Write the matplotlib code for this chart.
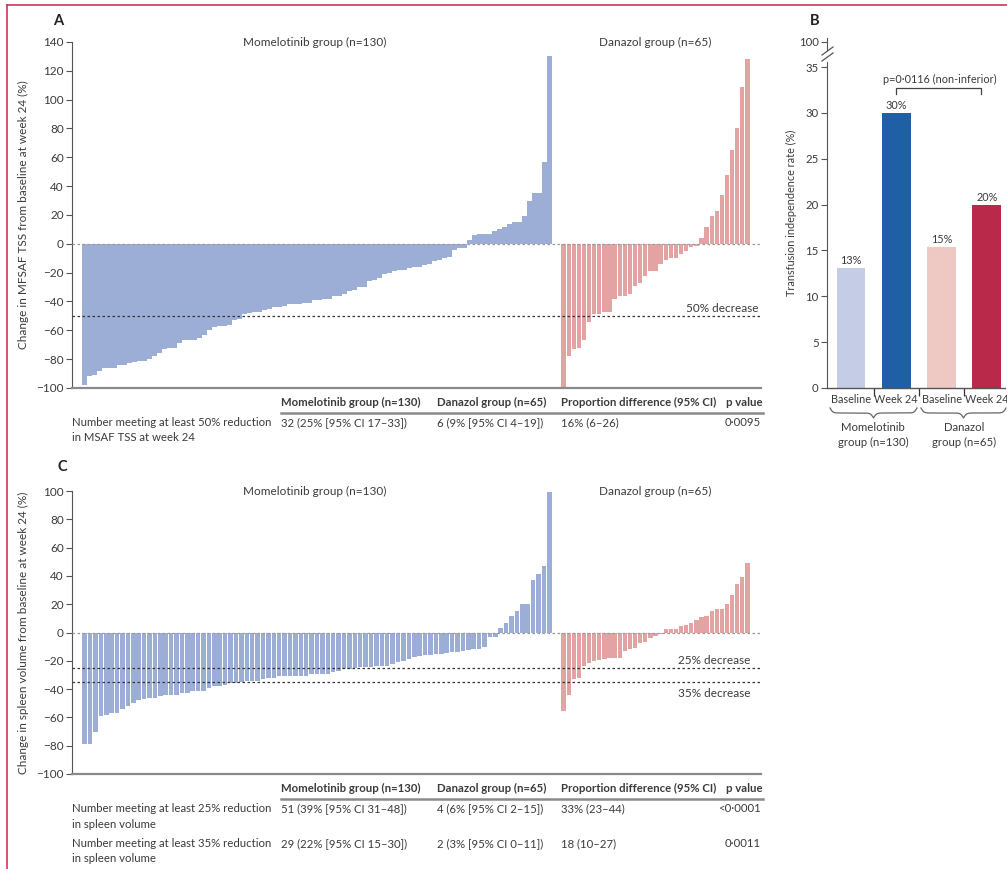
import numpy as np
import matplotlib.pyplot as plt
from matplotlib.lines import Line2D

plt.rcParams['font.family'] = ['Lato', 'DejaVu Sans']
plt.rcParams['font.size'] = 8
TXT = '#3b3b3b'
FS = 8.2

# Panel A: change in MFSAF TSS at week 24 (%), one value per patient, sorted
mom_tss = [-98, -92, -91, -88, -86, -86, -86, -84, -84, -83, -82, -81, -81, -80, -78, -76,
           -73, -72, -72, -69, -67, -67, -67, -65, -63, -60, -58, -57, -57, -56, -53, -52,
           -49, -48, -47, -47, -46, -45, -44, -44, -43, -42, -42, -42, -41, -41, -39, -39,
           -38, -38, -36, -36, -35, -33, -32, -30, -30, -26, -25, -24, -21, -20, -19, -18,
           -18, -17, -16, -16, -15, -14, -12, -11, -10, -9, -4, -3, -3, 3, 6, 7, 7, 7, 9,
           10, 12, 14, 15, 15, 19, 30, 35, 35, 57, 130]
dan_tss = [-100, -78, -73, -72, -67, -54, -49, -49, -47, -47, -38, -36, -36, -35, -29, -27,
           -22, -19, -19, -14, -11, -10, -10, -7, -5, -2.5, -1.5, 4, 12, 19, 23, 34, 48, 65,
           80, 109, 128]

# Panel C: change in spleen volume at week 24 (%)
mom_spleen = [-79, -79, -70, -59, -58, -57, -57, -54, -52, -50, -48, -47, -46, -46, -45, -44,
              -44, -44, -43, -43, -41, -41, -41, -39, -38, -38, -37, -36, -35.5, -34.8, -34.5,
              -34, -34, -33, -32, -32, -31, -31, -31, -30.5, -30.5, -30.5, -29.5, -29, -29,
              -29, -28, -27, -26, -26, -25, -24.5, -24.5, -24.5, -23.5, -23.5, -23.5, -22.5,
              -21, -20, -19, -17.5, -16.5, -16, -16, -15, -15, -14.5, -14, -14, -13, -12.5,
              -12, -11.5, -10, -3, -3, 3, 7, 12, 15, 20, 20, 37, 41, 47, 99]
dan_spleen = [-55.6, -44.4, -32.8, -32, -23.5, -21.4, -20.2, -19.5, -18.4, -18, -18, -18, -13,
              -11.4, -10.7, -7.4, -6.7, -4, -2.6, -1.4, 2.6, 2.6, 2.6, 4.9, 5.6, 6.7, 9, 11,
              11.6, 15.3, 16.3, 16.3, 19.8, 26.7, 34, 39.5, 49]

# Panel B: transfusion independence rate
ti_labels = ['Baseline', 'Week 24', 'Baseline', 'Week 24']
ti_values = [13.1, 30.0, 15.4, 20.0]
ti_text = ['13%', '30%', '15%', '20%']
ti_groups = ['Momelotinib\ngroup (n=130)', 'Danazol\ngroup (n=65)']

# Tables
tab_header = ['Momelotinib group (n=130)', 'Danazol group (n=65)',
              'Proportion difference (95% CI)', 'p value']
tab_a_rows = [('Number meeting at least 50% reduction\nin MSAF TSS at week 24',
               '32 (25% [95% CI 17–33])', '6 (9% [95% CI 4–19])', '16% (6–26)', '0·0095')]
tab_c_rows = [('Number meeting at least 25% reduction\nin spleen volume',
               '51 (39% [95% CI 31–48])', '4 (6% [95% CI 2–15])', '33% (23–44)', '<0·0001'),
              ('Number meeting at least 35% reduction\nin spleen volume',
               '29 (22% [95% CI 15–30])', '2 (3% [95% CI 0–11])', '18 (10–27)', '0·0011')]

MOM_C = '#9daed6'
DAN_C = '#e3a3a3'
ti_colors = ['#c5cde6', '#1f5fa6', '#eec8c2', '#b8294a']

W, H = 1007, 869
fig = plt.figure(figsize=(W / 100, H / 100), dpi=100)


def rect(l, t, r, b):
    return [l / W, 1 - b / H, (r - l) / W, (b - t) / H]


def ftext(x, y, s, **kw):
    kw.setdefault('color', TXT)
    kw.setdefault('va', 'center')
    fig.text(x / W, 1 - y / H, s, **kw)


def fline(xs, ys, **kw):
    fig.add_artist(Line2D(np.asarray(xs) / W, 1 - np.asarray(ys) / H,
                          transform=fig.transFigure, **kw))


def waterfall(ax, mom, dan, ylim, yticks, ylabel):
    for vals, (s, e), c in [(mom, (0, 470), MOM_C), (dan, (479, 668), DAN_C)]:
        n = len(vals)
        pitch = (e - s) / n
        x = s + pitch * (np.arange(n) + 0.5)
        ax.bar(x, vals, width=pitch * 0.84, color=c, linewidth=0)
    ax.set_xlim(-10, 679)
    ax.set_ylim(*ylim)
    ax.set_yticks(yticks)
    ax.set_xticks([])
    ax.axhline(0, color='#999999', lw=0.9, ls=(0, (2, 2)), zorder=3)
    for s in ['top', 'right']:
        ax.spines[s].set_visible(False)
    ax.spines['left'].set_color('#555555')
    ax.spines['left'].set_linewidth(0.8)
    ax.spines['bottom'].set_color('#8a8a8a')
    ax.spines['bottom'].set_linewidth(1.6)
    ax.tick_params(axis='y', direction='out', length=4, width=0.8, color='#555555',
                   labelcolor=TXT, labelsize=FS + 0.3, pad=2)
    ax.set_ylabel(ylabel, color=TXT, fontsize=FS + 0.3)
    ax.yaxis.set_label_coords(-0.063, 0.5)
    ax.text(233, 1.0, 'Momelotinib group (n=130)', transform=ax.get_xaxis_transform(),
            ha='center', va='center', color=TXT, fontsize=FS + 0.3)
    ax.text(573, 1.0, 'Danazol group (n=65)', transform=ax.get_xaxis_transform(),
            ha='center', va='center', color=TXT, fontsize=FS + 0.3)


def table(y_head, rows, row_ys):
    xs = [281, 437, 561]
    for x, s in zip(xs, tab_header[:3]):
        ftext(x, y_head, s, ha='left', fontweight='bold', fontsize=FS)
    ftext(763, y_head, tab_header[3], ha='right', fontweight='bold', fontsize=FS)
    fline([281, 763], [y_head + 11, y_head + 11], color='#8a8a8a', lw=1.8)
    for (lab, a, b, c, p), y in zip(rows, row_ys):
        ftext(72, y, lab, ha='left', va='top', fontsize=FS, linespacing=1.5)
        for x, s in zip(xs, [a, b, c]):
            ftext(x, y, s, ha='left', va='top', fontsize=FS)
        ftext(761, y, p, ha='right', va='top', fontsize=FS)


# ---- Panel A
ax_a = fig.add_axes(rect(72, 42, 761, 388))
waterfall(ax_a, mom_tss, dan_tss, (-100, 140), np.arange(-100, 141, 20),
          'Change in MFSAF TSS from baseline at week 24 (%)')
ax_a.axhline(-50, color='#333333', lw=0.9, ls=(0, (2, 2)), zorder=3)
ax_a.text(676, -48.5, '50% decrease', ha='right', va='bottom', color=TXT, fontsize=FS + 0.3)
table(402, tab_a_rows, [417])

# ---- Panel C
ax_c = fig.add_axes(rect(72, 491, 761, 774))
waterfall(ax_c, mom_spleen, dan_spleen, (-100, 100), np.arange(-100, 101, 20),
          'Change in spleen volume from baseline at week 24 (%)')
ax_c.axhline(-25, color='#333333', lw=0.9, ls=(0, (2, 2)), zorder=3)
ax_c.axhline(-35, color='#333333', lw=0.9, ls=(0, (2, 2)), zorder=3)
ax_c.text(668, -20, '25% decrease', ha='right', va='center', color=TXT, fontsize=FS + 0.3)
ax_c.text(668, -43, '35% decrease', ha='right', va='center', color=TXT, fontsize=FS + 0.3)
table(788, tab_c_rows, [803, 838])

# ---- Panel B
ax_b = fig.add_axes(rect(827, 61.5, 1005, 388))
xb = np.arange(len(ti_values))
ax_b.bar(xb, ti_values, width=0.64, color=ti_colors, linewidth=0)
for x, v, t in zip(xb, ti_values, ti_text):
    ax_b.text(x, v + 0.15, t, ha='center', va='bottom', color=TXT, fontsize=7.8)
ax_b.set_xlim(-0.53, 3.4)
ax_b.set_ylim(0, 35.6)
ax_b.set_yticks(np.arange(0, 36, 5))
ax_b.set_xticks([0.5, 1.5, 2.5])
ax_b.set_xticklabels([])
ax_b.set_xticks(xb, minor=True)
ax_b.set_xticklabels(ti_labels, minor=True)
ax_b.tick_params(axis='x', which='major', direction='out', length=6, width=0.9, color='#333333')
ax_b.tick_params(axis='x', which='minor', length=0, labelcolor=TXT, labelsize=7.8, pad=4)
ax_b.tick_params(axis='y', direction='out', length=4, width=0.8, color='#555555',
                 labelcolor=TXT, labelsize=FS, pad=2)
for s in ['top', 'right']:
    ax_b.spines[s].set_visible(False)
ax_b.spines['left'].set_color('#555555')
ax_b.spines['left'].set_linewidth(0.8)
ax_b.spines['bottom'].set_color('#555555')
ax_b.spines['bottom'].set_linewidth(1.0)
ax_b.set_ylabel('Transfusion independence rate (%)', color=TXT, fontsize=7.8)
ax_b.yaxis.set_label_coords(-0.17, 0.536)

# p-value bracket
ax_b.plot([1, 1, 2.88, 2.88], [32.1, 32.75, 32.75, 32.1], color='#444444', lw=0.9)
ax_b.text(1.96, 33.6, 'p=0·0116 (non-inferior)', ha='center', va='center',
          color=TXT, fontsize=7.8)

# broken upper part of the y axis
ax_bt = fig.add_axes(rect(827, 38, 1005, 50))
ax_bt.set_xlim(-0.53, 3.4)
ax_bt.set_ylim(97, 101.5)
ax_bt.set_yticks([100])
ax_bt.set_xticks([])
for s in ['top', 'right', 'bottom']:
    ax_bt.spines[s].set_visible(False)
ax_bt.spines['left'].set_color('#555555')
ax_bt.spines['left'].set_linewidth(0.8)
ax_bt.tick_params(axis='y', direction='out', length=4, width=0.8, color='#555555',
                  labelcolor=TXT, labelsize=FS, pad=2)
ax_bt.patch.set_alpha(0)
fline([822, 833], [55, 47], color='#555555', lw=0.9)
fline([822, 833], [61, 53], color='#555555', lw=0.9)


# curly braces under panel B groups
def brace(x0, x1, ytop, h):
    half = np.linspace(x0, (x0 + x1) / 2, 120)
    beta = 0.7
    yh = (1 / (1 + np.exp(-beta * (half - half[0]))) +
          1 / (1 + np.exp(-beta * (half - half[-1])))) - 0.5
    xs = np.concatenate([half, (x0 + x1) - half[-2::-1]])
    ys = np.concatenate([yh, yh[-2::-1]])
    fline(xs, ytop + ys * h, color='#666666', lw=0.9)


brace(830, 917, 408, 10)
brace(921, 1006, 408, 10)
ftext(873, 435, ti_groups[0], ha='center', fontsize=FS, linespacing=1.45)
ftext(964, 435, ti_groups[1], ha='center', fontsize=FS, linespacing=1.45)

# panel letters
ftext(58, 21, 'A', fontweight='bold', fontsize=10.5, ha='center', color='#222222')
ftext(815, 21, 'B', fontweight='bold', fontsize=10.5, ha='center', color='#222222')
ftext(62, 467, 'C', fontweight='bold', fontsize=10.5, ha='center', color='#222222')

# page frame
fline([7, 7], [5, H], color='#c8385a', lw=1.2)
fline([7, W], [5, 5], color='#c8385a', lw=1.2)

fig.savefig('out.png', dpi=100)
